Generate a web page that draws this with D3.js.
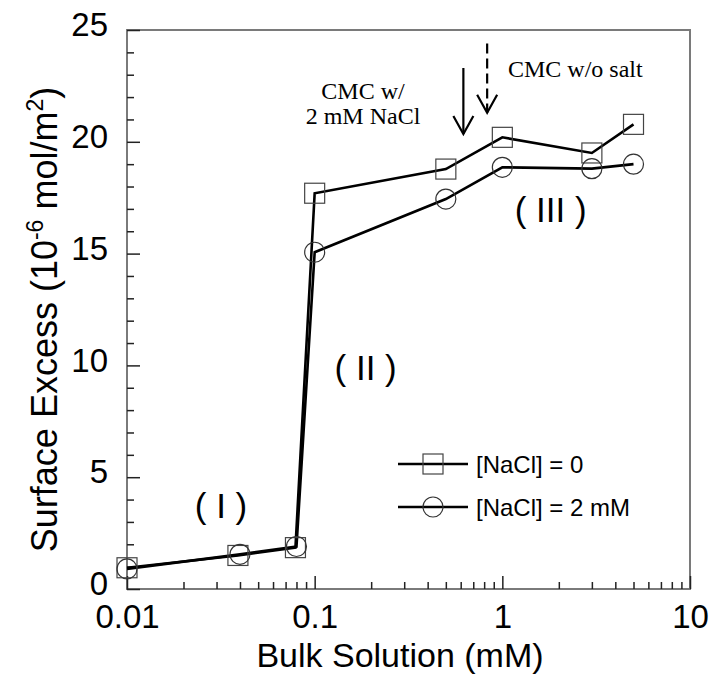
<!DOCTYPE html>
<html>
<head>
<meta charset="utf-8">
<script src="https://cdn.jsdelivr.net/npm/d3@7"></script>
<style>
  body { margin: 0; background: #fff; }
  svg text { font-family: "Liberation Sans", Arial, sans-serif; }
  svg text.serif { font-family: "Liberation Serif", "Times New Roman", serif; }
</style>
</head>
<body>
<div id="chart"></div>
<script>
// data
let concNoSalt = [0.01, 0.039, 0.079, 0.1, 0.5, 1.0, 3.0, 5.0];
let excessNoSalt = [0.95, 1.5, 1.85, 17.7, 18.78, 20.2, 19.5, 20.78];
let concSalt = [0.01, 0.04, 0.08, 0.1, 0.5, 1.0, 3.0, 5.0];
let excessSalt = [0.9, 1.55, 1.9, 15.06, 17.44, 18.86, 18.8, 19.0];
let seriesNames = ["[NaCl] = 0", "[NaCl] = 2 mM"];
let xMajorTicks = [0.01, 0.1, 1, 10];
let xTickLabels = ["0.01", "0.1", "1", "10"];
let yMajorTicks = [0, 5, 10, 15, 20, 25];
let cmcWithSalt = 0.62;
let cmcNoSalt = 0.83;
let regions = [
  { label: "( I )", conc: 0.0317, value: 3.18 },
  { label: "( II )", conc: 0.187, value: 9.35 },
  { label: "( III )", conc: 1.81, value: 16.43 }
];

// set the dimensions and margins of the graph
let margin = {top: 30, right: 32, bottom: 89, left: 127},
    width = 722 - margin.left - margin.right,
    height = 678 - margin.top - margin.bottom;

let svg = d3.select("#chart")
  .append("svg")
    .attr("width", width + margin.left + margin.right)
    .attr("height", height + margin.top + margin.bottom)
  .append("g")
    .attr("transform", "translate(" + margin.left + "," + margin.top + ")");

let x = d3.scaleLog()
  .domain([0.01, 10])
  .range([0, width]);

let y = d3.scaleLinear()
  .domain([0, 25])
  .range([height, 0]);

// minor ticks 2..9 in each decade
let xMinor = [];
[0.01, 0.1, 1].forEach(function(d) {
  for (let k = 2; k <= 9; k++) xMinor.push(d * k);
});
let yMinor = d3.range(0, 26).filter(function(v) { return v % 5 != 0; });

// frame
svg.append("rect")
  .attr("x", 0).attr("y", 0)
  .attr("width", width).attr("height", height)
  .attr("fill", "none")
  .attr("stroke", "#7a7a7a")
  .attr("stroke-width", 2);

// X axis (ticks pointing inward)
let xAxis = svg.append("g")
  .attr("transform", "translate(0," + height + ")")
  .call(d3.axisBottom(x)
    .tickValues(xMajorTicks)
    .tickSize(-13)
    .tickPadding(16)
    .tickFormat(function(d, i) { return xTickLabels[i]; }));
xAxis.append("g")
  .call(d3.axisBottom(x).tickValues(xMinor).tickSize(-7).tickFormat(""));

// Y axis
let yAxis = svg.append("g")
  .call(d3.axisLeft(y)
    .tickValues(yMajorTicks)
    .tickSize(-13)
    .tickPadding(19));
yAxis.append("g")
  .call(d3.axisLeft(y).tickValues(yMinor).tickSize(-7).tickFormat(""));

svg.selectAll(".domain").remove();
svg.selectAll(".tick line").attr("stroke", "#222").attr("stroke-width", 1.5);
xAxis.selectAll("text")
  .attr("font-size", "33px")
  .attr("fill", "#000");
yAxis.selectAll("text")
  .attr("font-size", "33px")
  .attr("dy", "0.17em")
  .attr("fill", "#000");

// axis titles
svg.append("text")
  .attr("x", 273)
  .attr("y", 637)
  .attr("text-anchor", "middle")
  .attr("font-size", "34px")
  .text("Bulk Solution (mM)");

let yTitle = svg.append("text")
  .attr("transform", "translate(-70," + (height / 2 + 10) + ") rotate(-90)")
  .attr("text-anchor", "middle")
  .attr("font-size", "36px");
yTitle.append("tspan").text("Surface Excess (10");
yTitle.append("tspan").attr("font-size", "23px").attr("dy", "-14").text("-6");
yTitle.append("tspan").attr("dy", "14").text(" mol/m");
yTitle.append("tspan").attr("font-size", "23px").attr("dy", "-14").text("2");
yTitle.append("tspan").attr("dy", "14").text(")");

// lines
let line = d3.line()
  .x(function(d) { return x(d[0]); })
  .y(function(d) { return y(d[1]); });

let noSalt = d3.zip(concNoSalt, excessNoSalt);
let salt = d3.zip(concSalt, excessSalt);

[noSalt, salt].forEach(function(data) {
  svg.append("path")
    .datum(data)
    .attr("d", line)
    .attr("fill", "none")
    .attr("stroke", "#000")
    .attr("stroke-width", 2.6)
    .attr("stroke-linejoin", "miter");
});

// markers
svg.selectAll("rect.sq")
  .data(noSalt)
  .enter()
  .append("rect")
    .attr("class", "sq")
    .attr("x", function(d) { return x(d[0]) - 10; })
    .attr("y", function(d) { return y(d[1]) - 10; })
    .attr("width", 20)
    .attr("height", 20)
    .attr("fill", "none")
    .attr("stroke", "#444")
    .attr("stroke-width", 1.2);

svg.selectAll("circle.ci")
  .data(salt)
  .enter()
  .append("circle")
    .attr("class", "ci")
    .attr("cx", function(d) { return x(d[0]); })
    .attr("cy", function(d) { return y(d[1]); })
    .attr("r", 10)
    .attr("fill", "none")
    .attr("stroke", "#333")
    .attr("stroke-width", 1.2);

// legend
let legend = svg.append("g").attr("transform", "translate(271,434)");
seriesNames.forEach(function(name, i) {
  let g = legend.append("g").attr("transform", "translate(0," + (i * 43) + ")");
  g.append("line")
    .attr("x1", 0).attr("x2", 70)
    .attr("stroke", "#000").attr("stroke-width", 2.6);
  if (i == 0) {
    g.append("rect")
      .attr("x", 25).attr("y", -10).attr("width", 20).attr("height", 20)
      .attr("fill", "none").attr("stroke", "#444").attr("stroke-width", 1.2);
  } else {
    g.append("circle")
      .attr("cx", 35).attr("r", 10)
      .attr("fill", "none").attr("stroke", "#333").attr("stroke-width", 1.2);
  }
  g.append("text")
    .attr("x", 78)
    .attr("y", 9)
    .attr("font-size", "24px")
    .text(name);
});

// region labels
svg.selectAll("text.region")
  .data(regions)
  .enter()
  .append("text")
    .attr("class", "region")
    .attr("x", function(d) { return x(d.conc); })
    .attr("y", function(d) { return y(d.value); })
    .attr("text-anchor", "middle")
    .attr("font-size", "35px")
    .attr("xml:space", "preserve")
    .text(function(d) { return d.label; });

// CMC arrows
function arrow(conc, top, tip, dashed) {
  let g = svg.append("g")
    .attr("stroke", "#000")
    .attr("stroke-width", 2.2)
    .attr("fill", "none");
  g.append("line")
    .attr("x1", x(conc)).attr("x2", x(conc))
    .attr("y1", y(top)).attr("y2", y(tip))
    .attr("stroke-dasharray", dashed ? "10,5" : null);
  g.append("path")
    .attr("d", "M" + (x(conc) - 10) + "," + (y(tip) - 18) +
               "L" + x(conc) + "," + y(tip) +
               "L" + (x(conc) + 10) + "," + (y(tip) - 18));
}
arrow(cmcWithSalt, 23.3, 20.35, false);
arrow(cmcNoSalt, 24.4, 21.3, true);

svg.append("text")
  .attr("class", "serif")
  .attr("x", 381)
  .attr("y", 47)
  .attr("font-size", "24px")
  .text("CMC w/o salt");

let cmcText = svg.append("text")
  .attr("class", "serif")
  .attr("text-anchor", "middle")
  .attr("font-size", "24px");
cmcText.append("tspan").attr("x", 236).attr("y", 69).text("CMC w/");
cmcText.append("tspan").attr("x", 236).attr("y", 94).text("2 mM NaCl");
</script>
</body>
</html>
